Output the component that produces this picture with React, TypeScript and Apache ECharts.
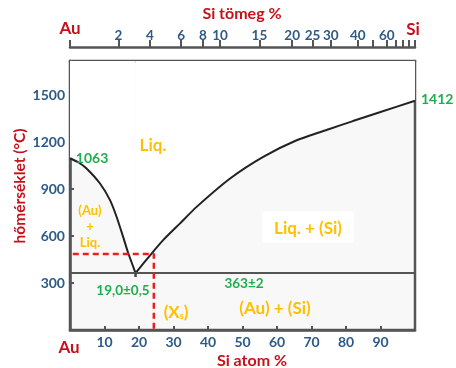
import React, { useEffect, useRef } from "react";
import * as echarts from "echarts";

// Liquidus (Si atom %, °C)
const leftLiquidus: [number, number][] = [
  [0, 1095], [2.5, 1068], [4.8, 1030], [8.7, 934], [11.6, 828], [13.5, 722],
  [15.4, 594], [16.9, 489], [19, 363],
];
const rightLiquidus: [number, number][] = [
  [19, 363], [23.7, 489], [27, 573], [31.9, 680], [36.7, 785], [46.4, 966],
  [56, 1104], [65.7, 1210], [75, 1280], [82, 1332], [90, 1390], [100, 1462],
];
const eutecticT = 363;
const eutecticX = 19;
const markerX = 24.3;
const markerT = 485;

// Top axis: Si weight % ticks and where they sit on the atom % scale
const weightTicks = [0, 2, 4, 6, 8, 10, 15, 20, 25, 30, 40, 50, 60, 70, 80, 90, 100];
const weightTickAtom = [0, 14.0, 23.2, 32.2, 38.5, 43.5, 54.9, 64.4, 70.3, 75.6, 83.4, 87.8, 91.8, 94.5, 96.4, 98.1, 100];
const weightLabels = [2, 4, 6, 8, 10, 15, 20, 25, 30, 40, 60];

const BLUE = "#2d5a86";
const GREEN = "#1fae4f";
const ORANGE = "#ffc000";
const RED = "#c8101a";
const FONT = "Lato";

export default function App() {
  const ref = useRef<HTMLDivElement>(null);
  useEffect(() => {
    if (!ref.current) return;
    const chart = echarts.init(ref.current, undefined, { renderer: "svg" });
    const labelVals = weightLabels.map((w) => weightTickAtom[weightTicks.indexOf(w)]);
    const txt = (text: string, x: number, y: number, fill: string, size = 13, align = "center", extra: any = {}) => ({
      type: "text",
      x,
      y,
      silent: true,
      z: 100,
      style: {
        text,
        fill,
        fontFamily: FONT,
        fontWeight: "bold",
        fontSize: size,
        textAlign: align,
        textVerticalAlign: "middle",
        align,
        verticalAlign: "middle",
        ...extra,
      },
    });
    const labelStyle = { color: BLUE, fontFamily: FONT, fontWeight: "bold", fontSize: 14 };
    chart.setOption({
      animation: false,
      grid: {
        left: 70, right: 41, top: 61, bottom: 38,
        show: true, backgroundColor: "#f8f8f8", borderColor: "#555", borderWidth: 2.5,
      },
      xAxis: [
        {
          type: "value", position: "bottom", min: 0, max: 100, interval: 10,
          axisLine: { lineStyle: { color: "#555", width: 2.5 } },
          axisTick: { inside: true, length: 4, lineStyle: { color: "#555", width: 2 } },
          axisLabel: { ...labelStyle, showMinLabel: false, showMaxLabel: false, margin: 4, formatter: (v: number) => String(v) },
          splitLine: { show: false },
        },
        {
          type: "value", position: "top", min: 0, max: 100, interval: 10,
          axisLine: { lineStyle: { color: "#555", width: 2.5 } },
          axisTick: { inside: true, length: 4, lineStyle: { color: "#555", width: 2 } },
          axisLabel: { show: false },
          splitLine: { show: false },
        },
        {
          type: "value", position: "top", offset: 14, min: 0, max: 100,
          axisLine: { lineStyle: { color: "#555", width: 2.5 } },
          axisTick: { length: 7, customValues: weightTickAtom, lineStyle: { color: "#555", width: 2 } },
          axisLabel: {
            ...labelStyle, fontSize: 13.5, customValues: labelVals, margin: 5,
            formatter: (v: number) => {
              let best = 0;
              labelVals.forEach((a, i) => { if (Math.abs(a - v) < Math.abs(labelVals[best] - v)) best = i; });
              return String(weightLabels[best]);
            },
          },
          splitLine: { show: false },
        },
      ],
      yAxis: {
        type: "value", min: 0, max: 1715, interval: 300,
        axisLine: { show: true, lineStyle: { color: "#555", width: 2.5 } },
        axisTick: { show: true, inside: true, length: 4, lineStyle: { color: "#555", width: 2 } },
        axisLabel: { ...labelStyle, showMinLabel: false, showMaxLabel: false, margin: 5, formatter: (v: number) => String(v) },
        splitLine: { show: false },
      },
      series: [
        {
          type: "line", data: leftLiquidus, symbol: "none", smooth: 0.2,
          lineStyle: { color: "#222", width: 2 },
          areaStyle: { color: "#ffffff", opacity: 1, origin: "end" },
          z: 2,
        },
        {
          type: "line", data: rightLiquidus, symbol: "none", smooth: 0.2,
          lineStyle: { color: "#222", width: 2 },
          areaStyle: { color: "#ffffff", opacity: 1, origin: "end" },
          z: 2,
        },
        {
          type: "line", data: [[0, eutecticT], [100, eutecticT]], symbol: "none",
          lineStyle: { color: "#555", width: 2 }, z: 3,
        },
        {
          type: "line", data: [[eutecticX, eutecticT], [eutecticX, eutecticT - 25]], symbol: "none",
          lineStyle: { color: "#444", width: 2.5 }, z: 3,
        },
        {
          type: "line", data: [[0.8, markerT], [markerX, markerT], [markerX, 0]], symbol: "none",
          lineStyle: { color: "#ee1c1c", width: 2.5, type: [6, 4] }, z: 4,
        },
      ],
      graphic: [
        txt("Si tömeg %", 242, 12, RED, 16),
        txt("Au", 70, 27, RED, 17),
        txt("Si", 413, 28, RED, 17),
        txt("Au", 69, 346, RED, 17),
        txt("Si atom %", 252, 359, RED, 16),
        { ...txt("hőmérséklet (°C)", 19, 186, RED, 15.5), rotation: Math.PI / 2 },
        txt("1063", 92, 157, GREEN, 14),
        txt("1412", 421, 98, GREEN, 14, "left"),
        txt("363±2", 244, 283, GREEN, 13.5),
        txt("19,0±0,5", 123, 290, GREEN, 13.5),
        txt("Liq.", 153, 144, ORANGE, 17),
        txt("(Au)", 90, 210, ORANGE, 13),
        txt("+", 90, 226, ORANGE, 13),
        txt("Liq.", 90, 242, ORANGE, 13),
        txt("Liq. + (Si)", 308, 227, ORANGE, 17, "center", { backgroundColor: "#ffffff", padding: [7, 12, 7, 12] }),
        txt("(Au) + (Si)", 275, 307, ORANGE, 17),
        txt("{a|(X}{s|s}{a|)}", 176, 311, ORANGE, 17, "center", {
          rich: {
            a: { fontFamily: FONT, fontWeight: "bold", fontSize: 17, fill: ORANGE, color: ORANGE },
            s: { fontFamily: FONT, fontWeight: "bold", fontSize: 9, fill: ORANGE, color: ORANGE, padding: [9, 0, 0, 0] },
          },
        }),
      ],
    });
    return () => chart.dispose();
  }, []);
  return <div ref={ref} style={{ position: "fixed", left: 0, top: 0, width: 456, height: 368 }} />;
}
